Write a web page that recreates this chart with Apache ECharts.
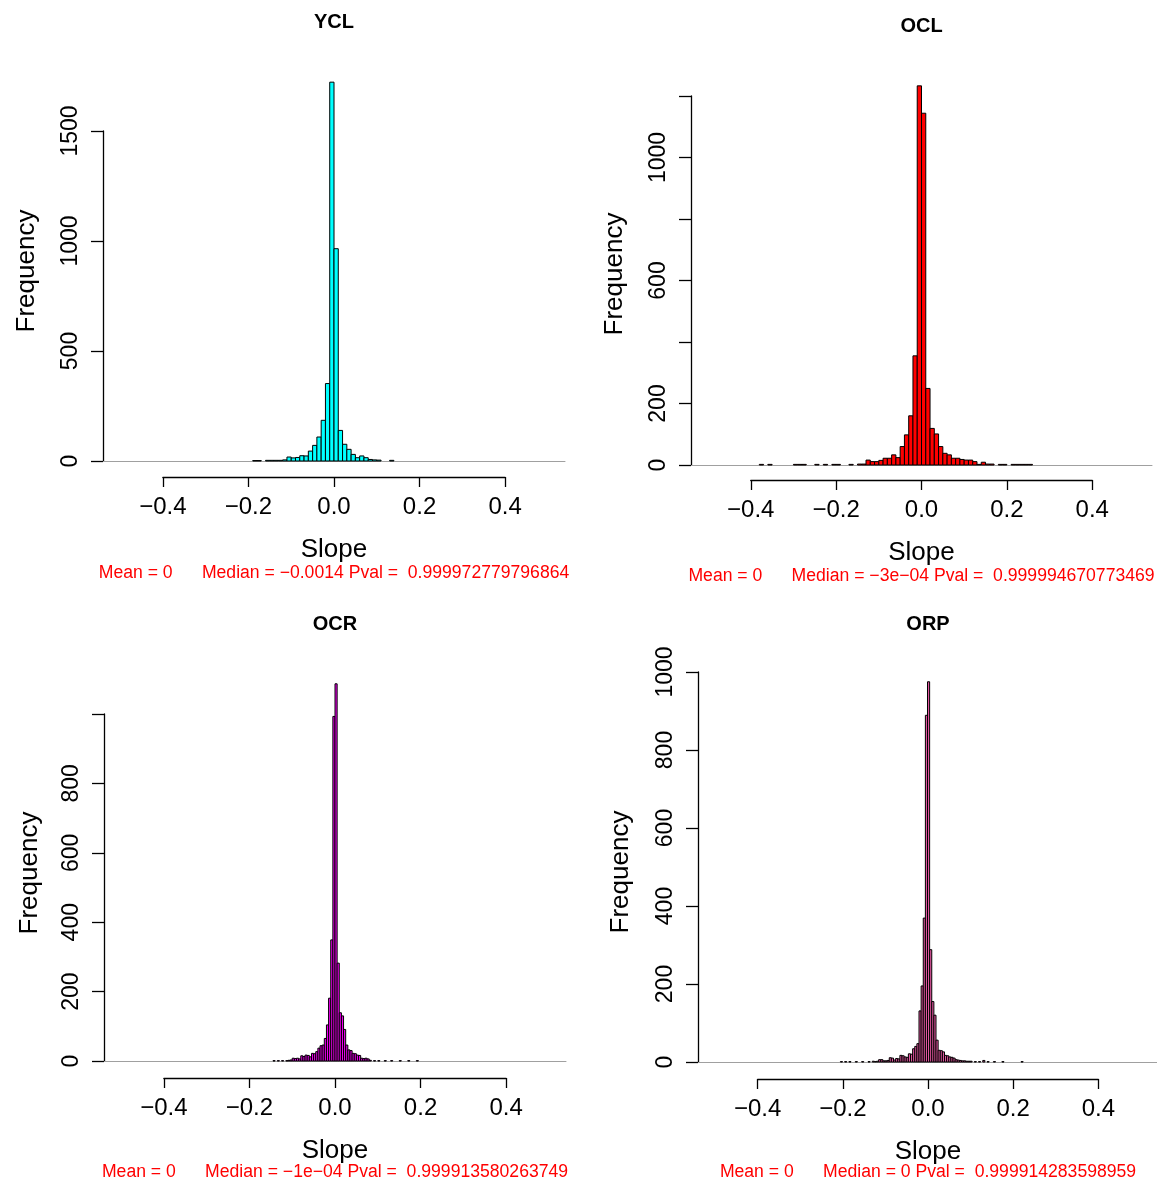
<!DOCTYPE html>
<html>
<head>
<meta charset="utf-8">
<script src="https://cdn.jsdelivr.net/npm/echarts@6/dist/echarts.min.js"></script>
<style>
  html, body { margin: 0; padding: 0; background: #fff; }
  #chart { width: 1157px; height: 1181px; }
</style>
</head>
<body>
<div id="chart"></div>
<script>
// histogram of slopes (bin left edge, count)
const yclBinWidth = 0.01;
const yclBinLeft = [-0.19, -0.18, -0.17, -0.16, -0.15, -0.14, -0.13, -0.12, -0.11, -0.10,
  -0.09, -0.08, -0.07, -0.06, -0.05, -0.04, -0.03, -0.02, -0.01, 0,
  0.01, 0.02, 0.03, 0.04, 0.05, 0.06, 0.07, 0.08, 0.09, 0.10, 0.11, 0.12, 0.13];
const yclCounts = [2, 2, 0, 3, 3, 3, 3, 5, 18, 14,
  16, 24, 23, 45, 71, 109, 185, 352, 1722, 965,
  139, 76, 53, 30, 15, 23, 15, 7, 5, 4, 0, 0, 3];

const oclBinWidth = 0.01;
const oclBinLeft = [-0.38, -0.36, -0.30, -0.29, -0.28, -0.25, -0.23, -0.21, -0.20, -0.17,
  -0.15, -0.14, -0.13, -0.12, -0.11, -0.10, -0.09, -0.08, -0.07, -0.06,
  -0.05, -0.04, -0.03, -0.02, -0.01, 0, 0.01, 0.02, 0.03, 0.04,
  0.05, 0.06, 0.07, 0.08, 0.09, 0.10, 0.11, 0.12, 0.13, 0.14,
  0.15, 0.16, 0.18, 0.19, 0.21, 0.22, 0.23, 0.24, 0.25];
const oclCounts = [2, 2, 2, 2, 2, 2, 2, 2, 2, 2,
  3, 3, 16, 11, 11, 15, 22, 22, 33, 24,
  60, 98, 160, 355, 1233, 1144, 249, 119, 101, 60,
  38, 33, 22, 22, 18, 16, 16, 11, 2, 9,
  3, 3, 2, 2, 2, 2, 2, 2, 2];

const ocrBinWidth = 0.005;
const ocrBinLeft = [-0.145, -0.135, -0.125, -0.115, -0.11, -0.105, -0.10, -0.095, -0.09, -0.085,
  -0.08, -0.075, -0.07, -0.065, -0.06, -0.055, -0.05, -0.045, -0.04, -0.035,
  -0.03, -0.025, -0.02, -0.015, -0.01, -0.005, 0, 0.005, 0.01, 0.015,
  0.02, 0.025, 0.03, 0.035, 0.04, 0.045, 0.05, 0.055, 0.06, 0.065,
  0.07, 0.075, 0.08, 0.09, 0.10, 0.115, 0.13, 0.15, 0.17, 0.19];
const ocrCounts = [1, 1, 1, 1, 2, 3, 8, 7, 8, 6,
  15, 13, 17, 16, 12, 22, 21, 27, 37, 44,
  46, 65, 104, 181, 349, 993, 1087, 282, 139, 130,
  91, 46, 32, 30, 22, 21, 17, 16, 8, 7,
  8, 6, 2, 1, 1, 1, 1, 1, 1, 1];

const orpBinWidth = 0.005;
const orpBinLeft = [-0.205, -0.195, -0.185, -0.17, -0.155, -0.14, -0.13, -0.125, -0.12, -0.115,
  -0.11, -0.105, -0.10, -0.095, -0.09, -0.085, -0.08, -0.075, -0.07, -0.065,
  -0.06, -0.055, -0.05, -0.045, -0.04, -0.035, -0.03, -0.025, -0.02, -0.015,
  -0.01, -0.005, 0, 0.005, 0.01, 0.015, 0.02, 0.025, 0.03, 0.035,
  0.04, 0.045, 0.05, 0.055, 0.06, 0.065, 0.07, 0.075, 0.08, 0.085,
  0.09, 0.095, 0.10, 0.11, 0.12, 0.13, 0.14, 0.155, 0.175, 0.22];
const orpCounts = [1, 1, 1, 1, 1, 1, 2, 1, 2, 6,
  6, 3, 3, 4, 11, 10, 5, 9, 8, 17,
  16, 13, 12, 21, 20, 34, 40, 47, 131, 195,
  369, 889, 975, 288, 155, 120, 56, 30, 29, 26,
  17, 16, 13, 12, 10, 6, 5, 4, 3, 3,
  2, 2, 2, 1, 1, 4, 1, 1, 1, 1];

// axis ticks
const xTicks = [-0.4, -0.2, 0, 0.2, 0.4];
const yclYTicks = [0, 500, 1000, 1500];
const oclYTicks = [0, 200, 400, 600, 800, 1000, 1200];
const oclYLabels = [0, 200, 600, 1000];
const ocrYTicks = [0, 200, 400, 600, 800, 1000];
const ocrYLabels = [0, 200, 400, 600, 800];
const orpYTicks = [0, 200, 400, 600, 800, 1000];

const titles = ["YCL", "OCL", "OCR", "ORP"];
const subtitles = [
  "Mean = 0      Median = \u22120.0014 Pval =  0.999972779796864",
  "Mean = 0      Median = \u22123e\u221204 Pval =  0.999994670773469",
  "Mean = 0      Median = \u22121e\u221204 Pval =  0.999913580263749",
  "Mean = 0      Median = 0 Pval =  0.999914283598959"
];

const FONT = "'Liberation Sans', Arial, Helvetica, sans-serif";

// layout of each panel, in pixels
const panels = [
  { left: 103, right: 565, top: 131, base: 461, axisY: 477, color: "#00FFFF",
    binLeft: yclBinLeft, counts: yclCounts, width: yclBinWidth, ticks: yclYTicks, labels: yclYTicks,
    titleY: 22, subY: 573, freqX: 27, freqY: 271 },
  { left: 691, right: 1152, top: 96, base: 465, axisY: 480, color: "#FF0000",
    binLeft: oclBinLeft, counts: oclCounts, width: oclBinWidth, ticks: oclYTicks, labels: oclYLabels,
    titleY: 26, subY: 576, freqX: 615, freqY: 274 },
  { left: 104, right: 566, top: 714, base: 1061, axisY: 1078, color: "#EE00EE",
    binLeft: ocrBinLeft, counts: ocrCounts, width: ocrBinWidth, ticks: ocrYTicks, labels: ocrYLabels,
    titleY: 624, subY: 1172, freqX: 30, freqY: 873 },
  { left: 698, right: 1158, top: 672, base: 1062, axisY: 1079, color: "#E0559E",
    binLeft: orpBinLeft, counts: orpCounts, width: orpBinWidth, ticks: orpYTicks, labels: orpYTicks,
    titleY: 624, subY: 1172, freqX: 621, freqY: 872 }
];

const XMIN = -0.54, XMAX = 0.54;

const grid = [], xAxis = [], yAxis = [], series = [], graphic = [];

panels.forEach((p, i) => {
  const span = p.right - p.left;
  const toPx = (v) => p.left + (v - XMIN) / (XMAX - XMIN) * span;
  const yMax = p.ticks[p.ticks.length - 1];
  const step = p.ticks[1] - p.ticks[0];

  // data grid: x covers the whole plot region, y from 0 to the last tick
  grid.push({ left: p.left, top: p.top, width: span, height: p.base - p.top });
  xAxis.push({
    gridIndex: 2 * i, type: "value", min: XMIN, max: XMAX,
    axisLine: { show: true, onZero: false, lineStyle: { color: "#a0a0a0", width: 1 } },
    axisTick: { show: false }, axisLabel: { show: false }, splitLine: { show: false }
  });
  yAxis.push({
    gridIndex: 2 * i, type: "value", min: 0, max: yMax, interval: step,
    axisLine: { show: true, onZero: false, lineStyle: { color: "#000", width: 1.3 } },
    axisTick: { show: true, length: 12, lineStyle: { color: "#000", width: 1.3 } },
    axisLabel: {
      rotate: 90, margin: 21, fontSize: 23, color: "#000", fontFamily: FONT,
      formatter: (v) => (p.labels.indexOf(v) >= 0 ? String(v) : "")
    },
    splitLine: { show: false }
  });

  // axis grid: R draws the x axis only from -0.4 to 0.4, below the plot
  const ax0 = toPx(xTicks[0]), ax1 = toPx(xTicks[xTicks.length - 1]);
  grid.push({ left: ax0, top: p.axisY - 10, width: ax1 - ax0, height: 10 });
  xAxis.push({
    gridIndex: 2 * i + 1, type: "value", min: xTicks[0], max: xTicks[xTicks.length - 1],
    interval: xTicks[1] - xTicks[0],
    axisLine: { show: true, onZero: false, lineStyle: { color: "#000", width: 1.3 } },
    axisTick: { show: true, length: 10, lineStyle: { color: "#000", width: 1.3 } },
    axisLabel: {
      margin: 18, fontSize: 24, color: "#000", fontFamily: FONT,
      formatter: (v) => (v === 0 ? "0.0" : v.toFixed(1).replace("-", "\u2212"))
    },
    splitLine: { show: false },
    name: "Slope", nameLocation: "middle", nameGap: 60,
    nameTextStyle: { fontSize: 26, color: "#000", fontFamily: FONT }
  });
  yAxis.push({ gridIndex: 2 * i + 1, type: "value", show: false });

  series.push({
    type: "custom",
    xAxisIndex: 2 * i, yAxisIndex: 2 * i,
    clip: false,
    data: p.binLeft.map((x, k) => [x, x + p.width, p.counts[k]]),
    encode: { x: [0, 1], y: 2 },
    renderItem: (params, api) => {
      const c = api.value(2);
      if (!c) return { type: "group", children: [] };
      const a = api.coord([api.value(0), 0]);
      const b = api.coord([api.value(1), c]);
      return {
        type: "rect",
        shape: { x: a[0], y: b[1], width: b[0] - a[0], height: a[1] - b[1] },
        style: { fill: p.color, stroke: "#000", lineWidth: 1 }
      };
    }
  });

  const mid = toPx(0);
  graphic.push({
    type: "text", x: mid, y: p.titleY,
    style: { text: titles[i], fontSize: 20, fontWeight: "bold", fontFamily: FONT,
      fill: "#000", textAlign: "center", textVerticalAlign: "middle" }
  });
  graphic.push({
    type: "text", x: p.freqX, y: p.freqY, rotation: Math.PI / 2,
    style: { text: "Frequency", fontSize: 26, fontFamily: FONT,
      fill: "#000", textAlign: "center", textVerticalAlign: "middle" }
  });
  graphic.push({
    type: "text", x: mid, y: p.subY,
    style: { text: subtitles[i], fontSize: 17.6, fontFamily: FONT,
      fill: "#FF0000", textAlign: "center", textVerticalAlign: "middle" }
  });
});

const chart = echarts.init(document.getElementById("chart"), null, { renderer: "canvas" });
chart.setOption({
  backgroundColor: "#fff",
  animation: false,
  grid: grid,
  xAxis: xAxis,
  yAxis: yAxis,
  series: series,
  graphic: graphic
});
</script>
</body>
</html>
